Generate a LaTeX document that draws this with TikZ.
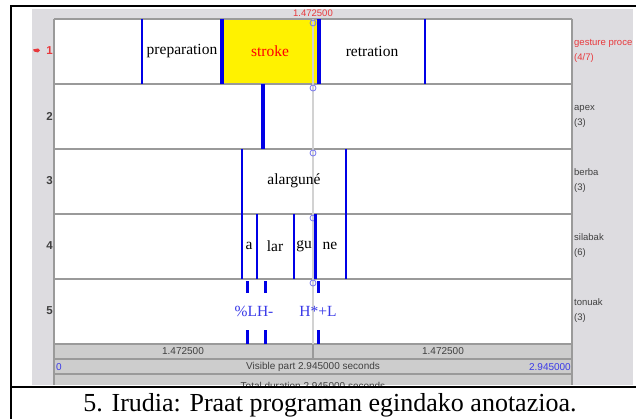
\documentclass[tikz,border=0pt]{standalone}
\usepackage{fontspec}
\setmainfont{Liberation Serif}
\newfontfamily\uifont{Liberation Sans}
\usetikzlibrary{positioning}

\definecolor{panelgray}{HTML}{DDDCE0}
\definecolor{rowgray}{HTML}{CDCDCD}
\definecolor{tierline}{HTML}{9A9A9A}
\definecolor{bndblue}{HTML}{0000E6}
\definecolor{labred}{HTML}{E8383C}
\definecolor{tonblue}{HTML}{3A3AE8}

\begin{document}
\begin{tikzpicture}
  [x=1pt,y=-1pt,
   tiertext/.style={font=\fontsize{15.5}{16}\selectfont, inner sep=0pt},
   tiername/.style={font=\uifont\fontsize{9.5}{15}\selectfont, text=darkgray, anchor=west, align=left, inner sep=0pt},
   tiernum/.style={font=\uifont\bfseries\fontsize{11.5}{12}\selectfont, text=darkgray, anchor=east, inner sep=0pt},
   rowtext/.style={font=\uifont\fontsize{10}{11}\selectfont, text=darkgray, inner sep=0pt},
   bnd/.style={bndblue}]
  \useasboundingbox (0,0) rectangle (636,419);

  % praat window
  \fill[panelgray] (32,9) rectangle (633,385);
  \fill[white] (54,19) rectangle (572,344);
  \fill[yellow] (222,19) rectangle (319,84);
  \fill[rowgray] (54,344) rectangle (572,385);

  \foreach \y in {19,84,149,214,279,344}
    \draw[tierline, line width=1.6pt] (54,\y) -- (572,\y);
  \foreach \y in {359,374}
    \draw[tierline, line width=1.2pt] (54,\y) -- (572,\y);
  \draw[tierline, line width=1.6pt] (54,19) -- (54,385);
  \draw[tierline, line width=1.6pt] (572,19) -- (572,385);

  % cursor
  \draw[gray!35, line width=1.6pt] (313,19) -- (313,344);
  \draw[tierline, line width=1.2pt] (313,344) -- (313,359);
  \foreach \y in {23,88,153,218,283}
    \draw[tonblue!70, line width=0.8pt] (313,\y) circle (3);

  % boundaries
  \foreach \x/\ya/\yb/\w in {142/19/84/2.2pt, 222/19/84/4pt, 319/19/84/4pt, 425/19/84/2.2pt,
      263/84/149/4pt, 242/149/214/2.2pt, 346/149/214/2.2pt,
      242/214/279/2.2pt, 257/214/279/2.2pt, 294/214/279/2.6pt, 315/214/279/3pt, 346/214/279/2.2pt,
      247/281/293/3pt, 265/281/293/3pt, 318/281/293/3pt,
      247/330/344/3pt, 265/330/344/3pt, 318/330/344/3pt}
    \draw[bnd, line width=\w] (\x,\ya) -- (\x,\yb);

  % intervals
  \node[tiertext] (prep) at (182,51) {preparation};
  \node[tiertext, text=red] (strk) at (270,51) {stroke};
  \node[tiertext] (retr) at (372,51) {retration};
  \node[tiertext] (word) at (294,181) {alarguné};
  \node[tiertext] (syl1) at (249,246) {a};
  \node[tiertext] (syl2) at (275,246) {lar};
  \node[tiertext] (syl3) at (304,246) {gu};
  \node[tiertext] (syl4) at (330,246) {ne};
  \node[tiertext, text=tonblue] (ton1) at (254,311) {\%LH-};
  \node[tiertext, text=tonblue] (ton2) at (318,311) {H*+L};

  % tier numbers and names
  \fill[labred] (33,49.5) -- (38,48.5) -- (40,50.5) -- (38,52.5) -- (34,51.5) -- cycle;
  \node[tiernum, text=labred] (num1) at (53,51) {1};
  \node[tiernum] (num2) at (53,116) {2};
  \node[tiernum] (num3) at (53,181) {3};
  \node[tiernum] (num4) at (53,246) {4};
  \node[tiernum] (num5) at (53,311) {5};
  \node[tiername, text=labred] (name1) at (574,51) {gesture proce\\(4/7)};
  \node[tiername] (name2) at (574,116) {apex\\(3)};
  \node[tiername] (name3) at (574,181) {berba\\(3)};
  \node[tiername] (name4) at (574,246) {silabak\\(6)};
  \node[tiername] (name5) at (574,311) {tonuak\\(3)};

  % time rows
  \node[rowtext, text=labred, font=\uifont\fontsize{9.5}{10}\selectfont] (curtime) at (313,13) {1.472500};
  \node[rowtext] (lefttime) at (183,351.5) {1.472500};
  \node[rowtext] (righttime) at (443,351.5) {1.472500};
  \node[rowtext, text=tonblue, anchor=west] (tstart) at (56,367) {0};
  \node[rowtext] (visible) at (313,367) {Visible part 2.945000 seconds};
  \node[rowtext, text=tonblue, anchor=east] (tend) at (571,367) {2.945000};
  \begin{scope}
    \clip (54,375) rectangle (572,385);
    \node[rowtext] (total) at (313,386) {Total duration 2.945000 seconds};
  \end{scope}

  % frame and caption
  \draw[line width=2pt] (636,6) -- (11,6) -- (11,419);
  \draw[line width=2pt] (11,387) -- (636,387);
  \node[font=\fontsize{26}{28}\selectfont, inner sep=0pt, anchor=base] (caption) at (330,411) {5. Irudia: Praat programan egindako anotazioa.};
\end{tikzpicture}
\end{document}
